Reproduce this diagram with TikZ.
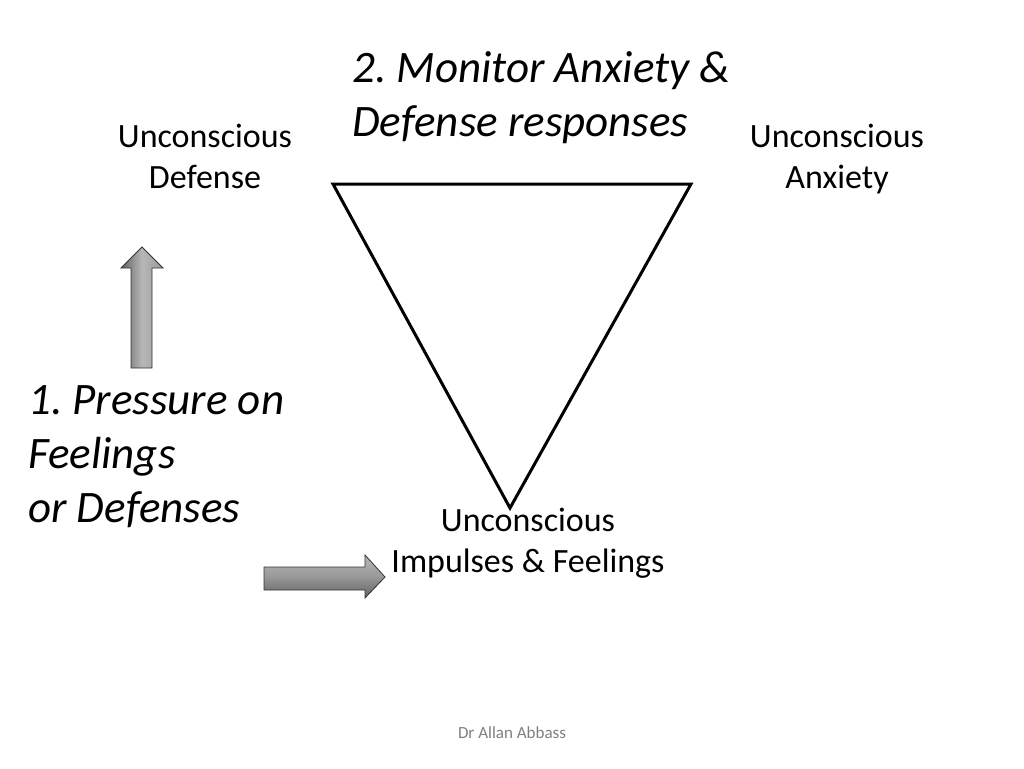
\documentclass[tikz,border=0pt]{standalone}
\usepackage{fontspec}
\setmainfont{Carlito}
\frenchspacing
\begin{document}
\begin{tikzpicture}[x=1pt,y=-1pt,
  lbl/.style={font=\fontsize{34}{41}\selectfont, align=center, inner sep=0pt, anchor=base},
  big/.style={font=\fontsize{45}{54}\selectfont\itshape, align=left, inner sep=0pt, anchor=base west},
  tri/.style={draw=black, line width=3pt, line join=miter},
  uparrow/.style={draw=black!80, line width=0.8pt, left color=black!62, right color=black!40, middle color=black!28},
  rtarrow/.style={draw=black!80, line width=0.8pt, top color=black!28, bottom color=black!62, middle color=black!40}]
\useasboundingbox[fill=white] (0,0) rectangle (1024,768);
% triangle
\coordinate (tl) at (333,184);
\coordinate (tr) at (691,184);
\coordinate (bt) at (510,508);
\draw[tri] (tl) -- (tr) -- (bt) -- cycle;
% labels
\node[lbl] (def) at (205,188) {Unconscious\\Defense};
\node[lbl] (anx) at (837,188) {Unconscious\\Anxiety};
\node[lbl] (imp) at (528,572) {Unconscious\\Impulses \& Feelings};
\node[big] (mon) at (352,136) {2. Monitor Anxiety \&\\Defense responses};
\node[big] (pre) at (28,522) {1. Pressure on\\Feelings\\or Defenses};
\node[font=\fontsize{17}{20}\selectfont, text=black!50, inner sep=0pt, anchor=base] (auth) at (512,738) {Dr Allan Abbass};
% arrows
\draw[uparrow] (131,368) -- (131,268) -- (121,268) -- (142,247) -- (163,268) -- (152,268) -- (152,368) -- cycle;
\draw[rtarrow] (264,567) -- (365,567) -- (365,555) -- (385,577) -- (365,598) -- (365,590) -- (264,590) -- cycle;
\end{tikzpicture}
\end{document}
